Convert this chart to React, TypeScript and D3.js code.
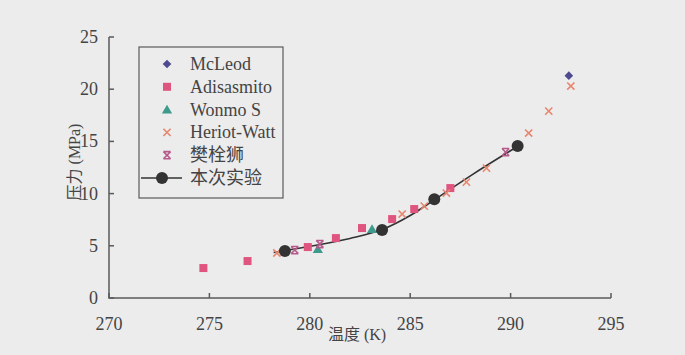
import React from 'react';
import * as d3 from 'd3';

const xTicks = [270, 275, 280, 285, 290, 295];
const yTicks = [0, 5, 10, 15, 20, 25];

const mcleodT = [292.9];
const mcleodP = [21.3];
const adisT = [274.7, 276.9, 279.9, 281.3, 282.6, 284.1, 285.2, 287.0];
const adisP = [2.87, 3.54, 4.88, 5.74, 6.7, 7.56, 8.52, 10.53];
const wonmoT = [280.4, 283.1];
const wonmoP = [4.69, 6.6];
const heriotT = [278.36, 284.6, 285.7, 286.8, 287.8, 288.8, 290.9, 291.9, 293.0];
const heriotP = [4.31, 8.04, 8.8, 10.05, 11.1, 12.44, 15.8, 17.9, 20.3];
const fanT = [279.25, 280.5, 289.75];
const fanP = [4.59, 5.17, 13.97];
const expT = [278.76, 283.6, 286.2, 290.35];
const expP = [4.5, 6.51, 9.47, 14.55];
const fitT = [278.2, 280.0, 282.0, 283.6, 285.0, 286.2, 288.0, 290.5];
const fitP = [4.35, 4.95, 5.7, 6.55, 7.9, 9.4, 11.7, 14.7];

const legendLabels = ['McLeod', 'Adisasmito', 'Wonmo S', 'Heriot-Watt', '樊栓狮', '本次实验'];

const C_MC = '#4d4a8f';
const C_AD = '#e0557f';
const C_WO = '#3d9a8c';
const C_HW = '#e8856c';
const C_FAN = '#b55a8a';
const C_EXP = '#333333';
const AXIS = '#5a5a5a';
const TEXT = '#444444';

const zip = (a: number[], b: number[]) => a.map((v, i) => [v, b[i]] as [number, number]);

function Marker({ kind, cx, cy }: { kind: string; cx: number; cy: number }) {
  if (kind === 'mc') {
    const s = 4.3;
    return <path d={`M${cx},${cy - s}L${cx + s},${cy}L${cx},${cy + s}L${cx - s},${cy}Z`} fill={C_MC} />;
  }
  if (kind === 'ad') {
    return <rect x={cx - 4} y={cy - 4} width={8} height={8} fill={C_AD} />;
  }
  if (kind === 'wo') {
    const p = d3.symbol(d3.symbolTriangle, 45)();
    return <path d={p || ''} transform={`translate(${cx},${cy + 1})`} fill={C_WO} />;
  }
  if (kind === 'hw') {
    const s = 3.6;
    return (
      <path d={`M${cx - s},${cy - s}L${cx + s},${cy + s}M${cx - s},${cy + s}L${cx + s},${cy - s}`}
        stroke={C_HW} strokeWidth={1.6} fill="none" />
    );
  }
  if (kind === 'fan') {
    const s = 3.6;
    return (
      <path d={`M${cx - s},${cy - s}L${cx + s},${cy + s}M${cx - s},${cy + s}L${cx + s},${cy - s}M${cx - s},${cy - s}L${cx + s},${cy - s}M${cx - s},${cy + s}L${cx + s},${cy + s}`}
        stroke={C_FAN} strokeWidth={1.6} fill="none" />
    );
  }
  return <circle cx={cx} cy={cy} r={6} fill={C_EXP} />;
}

export default function App() {
  const x = d3.scaleLinear().domain([270, 295]).range([109, 611]);
  const y = d3.scaleLinear().domain([0, 25]).range([298, 37]);

  const line = d3.line<[number, number]>()
    .x(d => x(d[0]))
    .y(d => y(d[1]))
    .curve(d3.curveMonotoneX);

  const series: { kind: string; t: number[]; p: number[] }[] = [
    { kind: 'ad', t: adisT, p: adisP },
    { kind: 'wo', t: wonmoT, p: wonmoP },
    { kind: 'hw', t: heriotT, p: heriotP },
    { kind: 'fan', t: fanT, p: fanP },
    { kind: 'mc', t: mcleodT, p: mcleodP },
  ];
  const legendKinds = ['mc', 'ad', 'wo', 'hw', 'fan', 'exp'];

  const latin = '"Liberation Serif", "DejaVu Serif", serif';
  const cjk = '"Liberation Serif", "Noto Sans CJK SC", serif';

  return (
    <svg width={685} height={355} style={{ position: 'absolute', left: 0, top: 0 }}>
      <rect x={0} y={0} width={685} height={355} fill="#ececec" />
      {/* axes */}
      <path d={`M${x(270)},${y(25)}L${x(270)},${y(0)}L${x(295)},${y(0)}`} stroke={AXIS} strokeWidth={1.5} fill="none" />
      {xTicks.map(t => (
        <g key={'xt' + t}>
          <line x1={x(t)} x2={x(t)} y1={y(0)} y2={y(0) - 5} stroke={AXIS} strokeWidth={1.5} />
          <text x={x(t)} y={330} textAnchor="middle" fontFamily={latin} fontSize={18} fill={TEXT}>{t}</text>
        </g>
      ))}
      {yTicks.map(v => (
        <g key={'yt' + v}>
          <line x1={x(270)} x2={x(270) + 5} y1={y(v)} y2={y(v)} stroke={AXIS} strokeWidth={1.5} />
          <text x={98} y={y(v) + 6} textAnchor="end" fontFamily={latin} fontSize={18} fill={TEXT}>{v}</text>
        </g>
      ))}
      <text x={357} y={340} textAnchor="middle" fontFamily={cjk} fontSize={16} fill={TEXT}>温度 (K)</text>
      <text transform={`translate(80,162) rotate(-90)`} textAnchor="middle" fontFamily={cjk} fontSize={16} fill={TEXT}>压力 (MPa)</text>

      {/* fit line */}
      <path d={line(zip(fitT, fitP)) || ''} stroke={C_EXP} strokeWidth={1.6} fill="none" />
      {series.map(s => s.t.map((t, i) => (
        <Marker key={s.kind + i} kind={s.kind} cx={x(t)} cy={y(s.p[i])} />
      )))}
      {expT.map((t, i) => (
        <Marker key={'exp' + i} kind="exp" cx={x(t)} cy={y(expP[i])} />
      ))}

      {/* legend */}
      <rect x={139} y={47} width={144} height={151} fill="none" stroke={AXIS} strokeWidth={1.2} />
      {legendLabels.map((lab, i) => {
        const ly = 64 + i * 22.8;
        return (
          <g key={'lg' + i}>
            {legendKinds[i] === 'exp' && (
              <line x1={141} x2={182} y1={ly} y2={ly} stroke={C_EXP} strokeWidth={1.6} />
            )}
            <Marker kind={legendKinds[i]} cx={legendKinds[i] === 'exp' ? 162 : 167} cy={ly} />
            <text x={190} y={ly + 6} fontFamily={cjk} fontSize={18} fill={TEXT}>{lab}</text>
          </g>
        );
      })}
    </svg>
  );
}
